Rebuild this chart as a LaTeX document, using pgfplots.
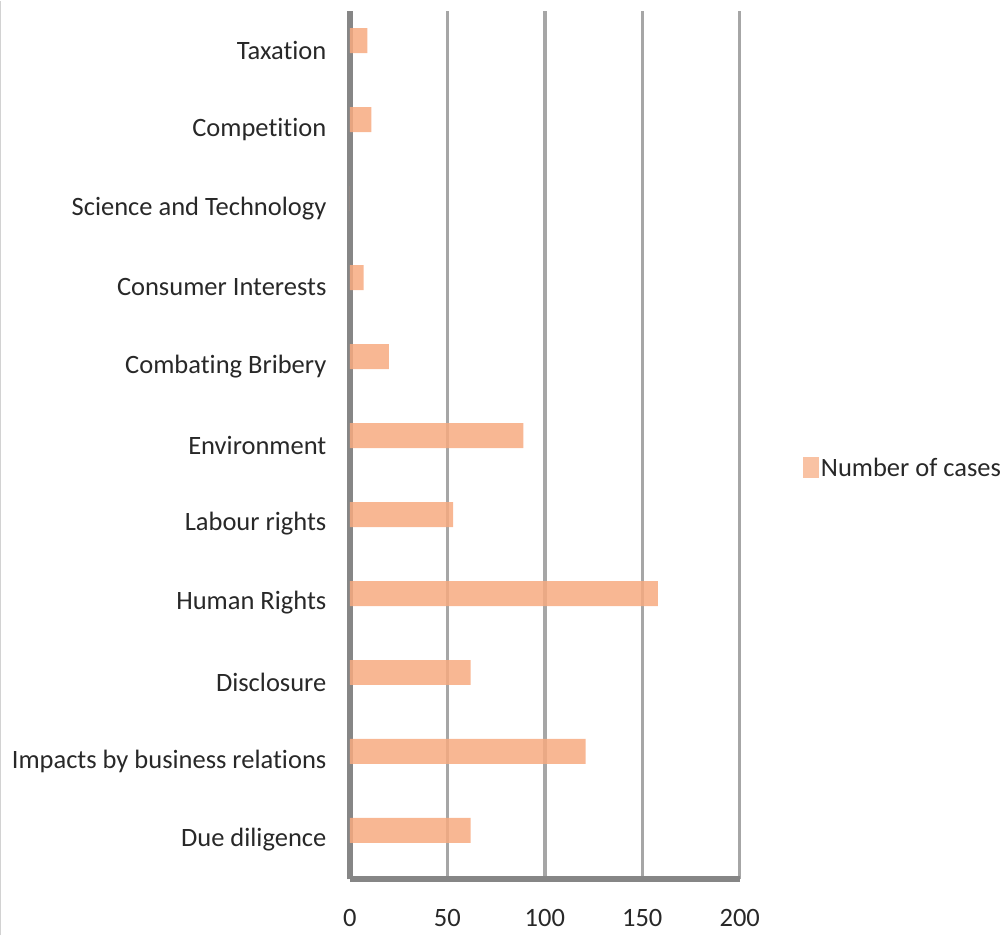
\documentclass[border=0pt]{standalone}
\usepackage{fontspec}
\setmainfont{Carlito}[Ligatures=NoCommon]
\usepackage{pgfplots}
\pgfplotsset{compat=1.18}
\definecolor{barc}{RGB}{247,170,128}
\definecolor{barleg}{RGB}{248,183,147}
\definecolor{axc}{RGB}{134,134,134}
\definecolor{gridc}{RGB}{166,166,166}
\definecolor{txt}{RGB}{40,40,40}
\begin{document}
\begin{tikzpicture}
\path (0,0) rectangle (1003pt,935pt);
\draw[gray!35, line width=1.5pt] (0.75pt,0) -- (0.75pt,935pt);
\begin{axis}[
  at={(350pt,56pt)}, anchor=south west,
  scale only axis, width=390pt, height=869pt,
  xbar, bar width=25pt, bar shift=9.5pt,
  xmin=0, xmax=200, ymin=-0.5, ymax=10.5,
  xtick={0,50,...,200},
  ytick={0,...,10},
  yticklabels={Due diligence, Impacts by business relations, Disclosure, Human Rights, Labour rights, Environment, Combating Bribery, Consumer Interests, Science and Technology, Competition, Taxation},
  axis lines*=left,
  separate axis lines,
  x axis line style={draw=axc, line width=6pt},
  y axis line style={draw=axc, line width=6pt},
  xmajorgrids, grid style={draw=gridc, line width=3.5pt},
  major tick length=0pt,
  tick style={draw=none},
  /pgf/number format/assume math mode=true,
  tick label style={font=\fontsize{26.5}{30}\selectfont, text=txt},
  xticklabel style={yshift=-26pt},
  yticklabel style={xshift=-20pt},
  legend style={at={(axis description cs:1.1615,0.474)}, anchor=west, draw=none, fill=none,
    font=\fontsize{26.5}{30}\selectfont, text=txt, inner sep=0pt},
  legend cell align=left,
  legend image code/.code={\fill[barleg] (0pt,-10pt) rectangle (16pt,11pt);},
]
\addplot[fill=barc, fill opacity=0.85, draw=none] coordinates {
(62,0) (121,1) (62,2) (158,3) (53,4) (89,5) (20,6) (7,7) (0,8) (11,9) (9,10)
};
\addlegendentry{Number of cases}
\end{axis}
\end{tikzpicture}
\end{document}
